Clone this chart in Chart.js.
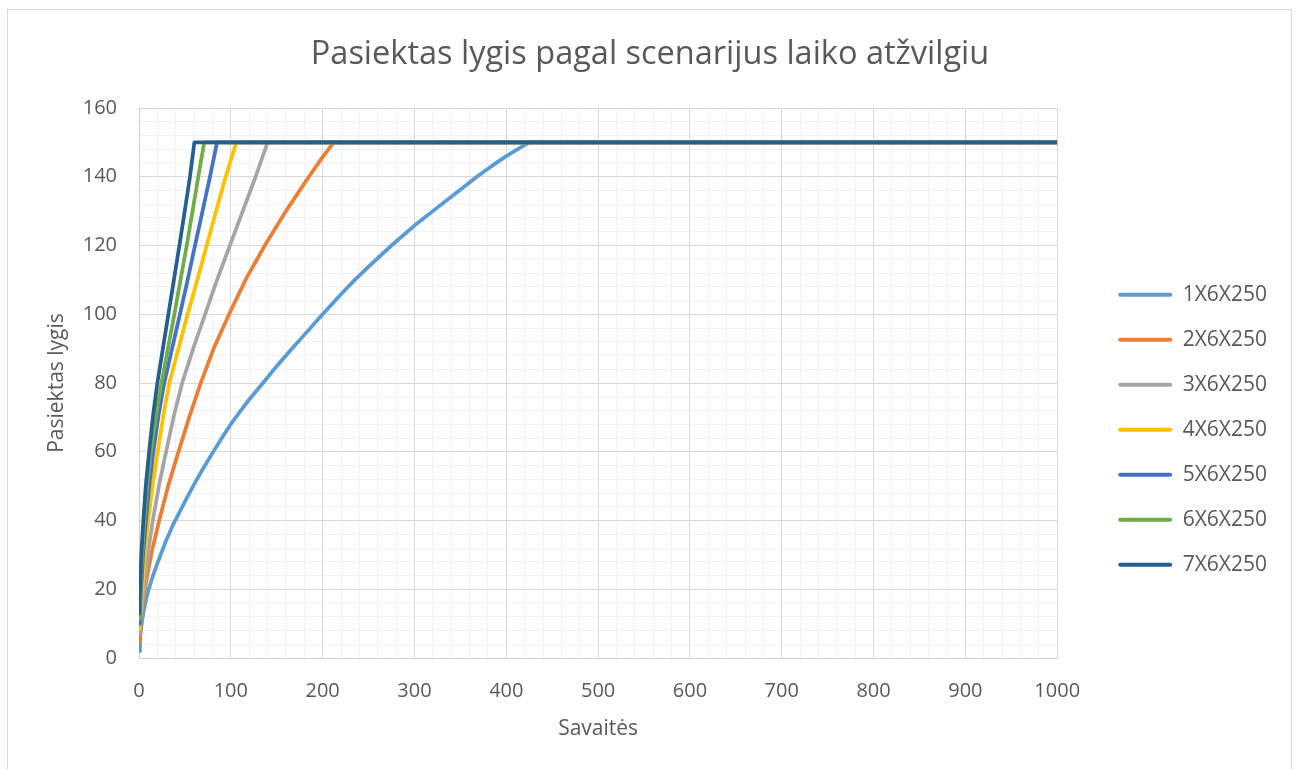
<!DOCTYPE html>
<html>
<head>
<meta charset="utf-8">
<script src="https://cdn.jsdelivr.net/npm/chart.js@4.4.1/dist/chart.umd.min.js"></script>
<style>
  html, body { margin: 0; padding: 0; background: #ffffff; }
  #wrap { position: absolute; left: 0; top: 0; width: 1299px; height: 769px; }
</style>
</head>
<body>
<div id="wrap"><canvas id="chart" width="1299" height="769"></canvas></div>
<script>
// Scenario names
const scenarios = ['1X6X250', '2X6X250', '3X6X250', '4X6X250', '5X6X250', '6X6X250', '7X6X250'];
const colors = ['#5B9BD5', '#ED7D31', '#A5A5A5', '#FFC000', '#4472C4', '#70AD47', '#255E91'];

// Week / level pairs for each scenario
const weeks1  = [0, 1, 2, 3.5, 5, 7.5, 10, 15, 20, 30, 37, 45, 52, 60, 70, 80, 90, 100, 110, 120, 135, 150, 165, 180, 200, 220, 235, 255, 275, 300, 320, 345, 368, 385, 400, 413, 425, 1000];
const levels1 = [2, 5.5, 8, 11, 13.5, 16.7, 19.5, 23.8, 27.5, 34.5, 38.7, 42.9, 46.5, 50.5, 55.2, 59.6, 63.9, 68, 71.7, 75.2, 80, 84.9, 89.5, 94, 100, 105.8, 110, 115.1, 120, 125.8, 130, 135.2, 140, 143.3, 146, 148.1, 150, 150];

const weeks2  = [0, 1, 2, 4, 6.5, 10, 14, 22, 32, 43, 55, 67, 82, 99, 117, 137, 160, 185, 198, 212, 1000];
const levels2 = [5, 8.5, 11, 15.5, 20, 25.5, 31, 40, 50.3, 60, 70.3, 79.8, 90.5, 100.5, 110.5, 120, 130, 140, 145, 150, 150];

const weeks3  = [0, 1, 2, 3.5, 5.5, 10, 15, 22, 29.5, 38, 47, 59, 72, 85, 99, 113, 127, 140, 1000];
const levels3 = [7, 9.5, 12, 16, 20, 31, 40, 50.5, 60, 70.5, 80, 90, 100, 110, 120, 130, 140, 150, 150];

const weeks4  = [0, 0.7, 1.5, 2.5, 3.6, 6.5, 10, 15, 20.4, 26.5, 33, 43, 53, 63.5, 73.7, 84, 94.4, 106, 1000];
const levels4 = [8.5, 11.5, 14, 17, 20, 31, 40, 50.5, 60, 70.5, 80, 90, 100, 110, 120, 130, 140, 150, 150];

const weeks5  = [0, 1, 2.2, 4.6, 7.6, 11.4, 15.6, 21.2, 27.5, 36, 44.6, 53, 61, 69.2, 77.3, 85, 1000];
const levels5 = [10, 14, 20, 30.5, 40, 50.5, 60, 70.5, 80, 90, 100, 110, 120, 130, 140, 150, 150];

const weeks6  = [0, 0.7, 1.5, 3.4, 5.8, 9, 13, 18.5, 24.5, 31.5, 38.5, 45.2, 52, 58.3, 64.6, 71, 1000];
const levels6 = [11.6, 15, 20, 30.5, 40, 50.5, 60, 70.5, 80, 90, 100, 110, 120, 130, 140, 150, 150];

const weeks7  = [0, 0.5, 1.1, 2.6, 4.7, 7.5, 11, 15.3, 20, 26, 32, 38, 44, 49.8, 55.5, 60.3, 1000];
const levels7 = [13, 16, 20, 30.5, 40, 50.5, 60, 70.5, 80, 90, 100, 110, 120, 130, 140, 150, 150];

// Axis ranges and tick steps
const xMax = 1000, xStep = 100, xMinorStep = 20;
const yMax = 160, yStep = 20, yMinorStep = 4;

const weekSets = [weeks1, weeks2, weeks3, weeks4, weeks5, weeks6, weeks7];
const levelSets = [levels1, levels2, levels3, levels4, levels5, levels6, levels7];

const textColor = '#595959';
const fontFamily = "'Open Sans', 'Noto Sans', sans-serif";

const datasets = scenarios.map((name, i) => ({
  label: name,
  data: weekSets[i].map((w, k) => ({ x: w, y: levelSets[i][k] })),
  borderColor: colors[i],
  backgroundColor: colors[i],
  borderWidth: 3.75,
  borderJoinStyle: 'round',
  pointRadius: 0,
  tension: 0,
  // later scenarios are painted on top
  order: scenarios.length - 1 - i
}));

// outer frame of the chart
const framePlugin = {
  id: 'frame',
  beforeDraw(chart) {
    const ctx = chart.ctx;
    ctx.save();
    ctx.fillStyle = '#ffffff';
    ctx.fillRect(0, 0, chart.width, chart.height);
    ctx.strokeStyle = '#d9d9d9';
    ctx.lineWidth = 1;
    ctx.strokeRect(7.5, 9.5, 1284, 780);
    ctx.restore();
  }
};

new Chart(document.getElementById('chart'), {
  type: 'line',
  data: { datasets },
  plugins: [framePlugin],
  options: {
    responsive: false,
    animation: false,
    devicePixelRatio: 1,
    layout: { padding: { left: 23, right: 22, top: 0, bottom: 0 } },
    plugins: {
      title: {
        display: true,
        text: 'Pasiektas lygis pagal scenarijus laiko atžvilgiu',
        color: textColor,
        font: { family: fontFamily, size: 32.5, weight: 'normal' },
        padding: { top: 35.5, bottom: 33.5 }
      },
      legend: {
        position: 'right',
        align: 'center',
        title: { display: true, text: ' ', padding: { top: 88, bottom: 0 }, font: { size: 2 } },
        labels: {
          color: textColor,
          font: { family: fontFamily, size: 21 },
          boxWidth: 54,
          boxHeight: 4,
          padding: 24,
          sort: (a, b) => a.datasetIndex - b.datasetIndex,
          generateLabels(chart) {
            return chart.data.datasets.map((ds, i) => ({
              text: ds.label,
              fillStyle: ds.borderColor,
              strokeStyle: ds.borderColor,
              lineWidth: 0,
              borderRadius: 2,
              fontColor: textColor,
              hidden: false,
              datasetIndex: i
            }));
          }
        }
      },
      tooltip: { enabled: false }
    },
    scales: {
      xMinor: {
        type: 'linear', position: 'bottom', min: 0, max: xMax, z: -2,
        ticks: { display: false, stepSize: xMinorStep },
        grid: { color: '#f2f2f2', lineWidth: 1, drawTicks: false },
        border: { display: false },
        afterFit(s) { s.height = 0; }
      },
      yMinor: {
        type: 'linear', position: 'right', min: 0, max: yMax, z: -2,
        ticks: { display: false, stepSize: yMinorStep },
        grid: { color: '#f2f2f2', lineWidth: 1, drawTicks: false },
        border: { display: false },
        afterFit(s) { s.width = 37; }
      },
      x: {
        type: 'linear', position: 'bottom', min: 0, max: xMax, z: -1,
        ticks: { stepSize: xStep, color: textColor, font: { family: fontFamily, size: 20 }, padding: 21, maxRotation: 0, callback: (v) => String(v) },
        grid: { color: '#d9d9d9', lineWidth: 1, drawTicks: false },
        border: { color: '#d0d0d0', width: 1 },
        title: { display: true, text: 'Savaitės', color: textColor, font: { family: fontFamily, size: 21 }, padding: { top: 0, bottom: 27.4 } },
        afterFit(s) { s.height = 111; }
      },
      y: {
        type: 'linear', position: 'left', min: 0, max: yMax, z: -1,
        ticks: { stepSize: yStep, color: textColor, font: { family: fontFamily, size: 20 }, padding: 22 },
        grid: { color: '#d9d9d9', lineWidth: 1, drawTicks: false },
        border: { color: '#d0d0d0', width: 1 },
        title: { display: true, text: 'Pasiektas lygis', color: textColor, font: { family: fontFamily, size: 21 }, padding: { top: 21.4, bottom: 0 } },
        afterFit(s) { s.width = 116; }
      }
    }
  }
});
</script>
</body>
</html>
